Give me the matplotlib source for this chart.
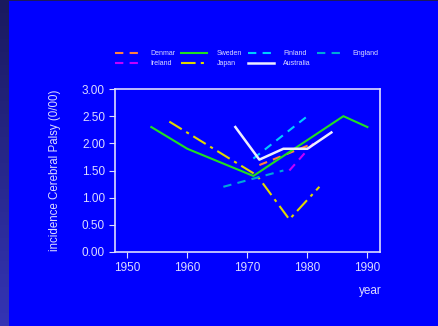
import numpy as np
import matplotlib
matplotlib.use("Agg")
import matplotlib.pyplot as plt
from matplotlib.colors import LinearSegmentedColormap

plt.rcParams["font.family"] = ["Liberation Sans", "DejaVu Sans"]

# data
denmark_year = [1972, 1981]
denmark_val = [1.6, 2.0]
sweden_year = [1954, 1960, 1971, 1986, 1990]
sweden_val = [2.3, 1.9, 1.4, 2.5, 2.3]
finland_year = [1971, 1980]
finland_val = [1.72, 2.5]
england_year = [1966, 1976]
england_val = [1.2, 1.5]
ireland_year = [1977, 1981]
ireland_val = [1.5, 2.0]
japan_year = [1957, 1971, 1972, 1977, 1982]
japan_val = [2.4, 1.45, 1.35, 0.6, 1.2]
australia_year = [1968, 1972, 1976, 1980, 1984]
australia_val = [2.3, 1.7, 1.9, 1.9, 2.2]

x_ticks = [1950, 1960, 1970, 1980, 1990]
y_ticks = [0.0, 0.5, 1.0, 1.5, 2.0, 2.5, 3.0]

bg = "#0000ff"
fg = "#dcdcff"

fig = plt.figure(figsize=(4.38, 3.26), dpi=100)
fig.patch.set_facecolor(bg)

# dark strip on the left edge of the slide
strip = fig.add_axes([0, 0, 9 / 438, 1])
cmap = LinearSegmentedColormap.from_list("strip", ["#1a1a5e", "#3434b4"])
strip.imshow(np.linspace(0, 1, 100).reshape(-1, 1), aspect="auto", cmap=cmap)
strip.axis("off")
fig.add_artist(plt.Rectangle((0, 1 - 1 / 326), 1, 1 / 326, transform=fig.transFigure,
                             color="#1a1a5e", lw=0))

ax = fig.add_axes([114.7 / 438, 1 - 252 / 326, 265.3 / 438, 163 / 326])
ax.set_facecolor(bg)

ax.plot(denmark_year, denmark_val, color="#ff8040", lw=1.5, ls=(0, (4, 3)), label="Denmar")
ax.plot(ireland_year, ireland_val, color="#c000ff", lw=1.5, ls=(0, (4, 3)), label="Ireland")
ax.plot(sweden_year, sweden_val, color="#22dd22", lw=1.5, label="Sweden")
ax.plot(japan_year, japan_val, color="#e0d800", lw=1.5, ls=(0, (7, 2.5, 1.5, 2.5)), label="Japan")
ax.plot(finland_year, finland_val, color="#00ccff", lw=1.5, ls=(0, (4, 3)), label="Finland")
ax.plot(australia_year, australia_val, color="#eeeeff", lw=1.8, label="Australia")
ax.plot(england_year, england_val, color="#00a8d8", lw=1.5, ls=(0, (4, 3)), label="England")

ax.set_xlim(1947.9, 1992.1)
ax.set_ylim(0, 3)
ax.set_xticks(x_ticks)
ax.set_yticks(y_ticks)
ax.set_yticklabels([f"{v:.2f}" for v in y_ticks])

for s in ax.spines.values():
    s.set_color(fg)
    s.set_linewidth(1.2)
ax.tick_params(colors=fg, labelsize=8.5, length=4, width=0.8, pad=3)

ax.set_ylabel("incidence Cerebral Palsy (0/00)", color=fg, fontsize=8.3, labelpad=15)
ax.set_xlabel("year", color=fg, fontsize=8.5)
ax.xaxis.set_label_coords(0.962, -0.2)

leg = fig.legend(*ax.get_legend_handles_labels(), ncol=4, loc="upper left",
                 bbox_to_anchor=(115 / 438, 1 - 50 / 326), frameon=False,
                 fontsize=5, handlelength=3.75, handletextpad=1.3,
                 columnspacing=0.9, labelspacing=0.5, borderpad=0, borderaxespad=0)
for t in leg.get_texts():
    t.set_color(fg)

fig.savefig("out.png", dpi=100, facecolor=bg)
